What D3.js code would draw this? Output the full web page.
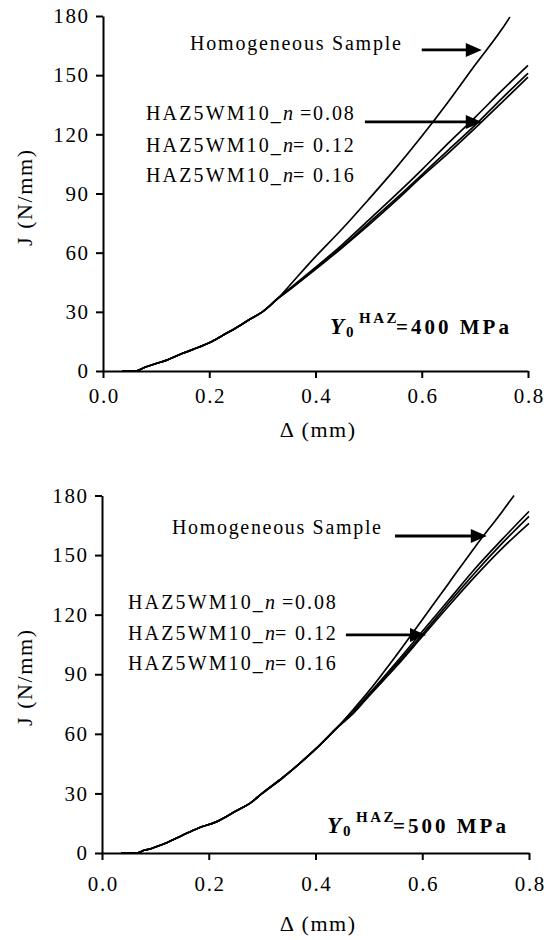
<!DOCTYPE html>
<html>
<head>
<meta charset="utf-8">
<script src="https://cdn.jsdelivr.net/npm/d3@7"></script>
<style>
  html, body { margin: 0; padding: 0; background: #fff; }
  svg { display: block; }
</style>
</head>
<body>
<svg id="chart" width="544" height="940"></svg>
<script>
// ---------- shared axis data ----------
const xTicks = [0, 0.2, 0.4, 0.6, 0.8];
const yTicks = [0, 30, 60, 90, 120, 150, 180];
const xTitle = "\u0394 (mm)";
const yTitle = "J (N/mm)";
const homogLabel = "Homogeneous Sample";
const hazLabels = [
  { pre: "HAZ5WM10_", n: "n", post: " =0.08" },
  { pre: "HAZ5WM10_", n: "n", post: "= 0.12" },
  { pre: "HAZ5WM10_", n: "n", post: "= 0.16" }
];

// ---------- top panel (Y0 HAZ = 400 MPa) ----------
const topDeltaCommon = [0.036, 0.062, 0.07, 0.08, 0.10, 0.12, 0.15, 0.18, 0.20, 0.225, 0.25, 0.275, 0.30, 0.33];
const topJCommon     = [0, 0, 0.8, 2, 3.8, 5.5, 9, 12, 14.3, 18, 21.8, 26, 30, 37];

const topHomogDelta = [0.35, 0.40, 0.45, 0.50, 0.55, 0.60, 0.65, 0.70, 0.75, 0.766];
const topHomogJ     = [43, 58, 72, 87, 102.5, 119, 136.5, 155, 173, 179.5];

const topHazDelta = [0.35, 0.40, 0.45, 0.50, 0.55, 0.60, 0.65, 0.70, 0.75, 0.80];
const topHaz008J  = [41.5, 52.5, 64, 76.5, 89, 102, 115.5, 128.5, 142, 155];
const topHaz012J  = [41, 52, 63, 75, 87, 99.5, 112, 124.5, 138, 151];
const topHaz016J  = [41, 51.5, 62.5, 74, 86, 98.5, 110.5, 123, 136, 149];

// ---------- bottom panel (Y0 HAZ = 500 MPa) ----------
const botDeltaCommon = [0.036, 0.065, 0.08, 0.09, 0.10, 0.12, 0.15, 0.18, 0.215, 0.25, 0.277, 0.30, 0.339, 0.37, 0.403, 0.44];
const botJCommon     = [0, 0, 1.5, 2, 3, 5, 8.8, 12.5, 15.8, 21, 25, 30, 38, 45, 53, 63];

const botHomogDelta = [0.47, 0.50, 0.55, 0.60, 0.65, 0.70, 0.75, 0.772];
const botHomogJ     = [72, 81.5, 99, 117.5, 136, 154.5, 172, 180];

const botHazDelta = [0.47, 0.50, 0.55, 0.60, 0.65, 0.70, 0.75, 0.80];
const botHaz008J  = [71, 80, 95.5, 111.5, 127.5, 143.5, 158, 172];
const botHaz012J  = [70.5, 79.5, 94.5, 110, 126, 141.5, 156, 169.5];
const botHaz016J  = [70, 79, 93.5, 109, 124.5, 139.5, 153.5, 166];

// arrows (data coordinates)
const topArrows = [ { x1: 0.600, x2: 0.713, y: 162.8 }, { x1: 0.493, x2: 0.713, y: 126.3 } ];
const botArrows = [ { x1: 0.549, x2: 0.721, y: 159.6 }, { x1: 0.457, x2: 0.607, y: 109.8 } ];

const topStress = "400";
const botStress = "500";

// ---------- font selection ----------
function pickFont(cands) {
  const c = document.createElement("canvas").getContext("2d");
  const s = "Homogeneous Sample HAZ5WM10 0123456789";
  c.font = "40px monospace"; const wm = c.measureText(s).width;
  c.font = "40px sans-serif"; const ws = c.measureText(s).width;
  for (const f of cands) {
    c.font = `40px "${f}", monospace`; const w1 = c.measureText(s).width;
    c.font = `40px "${f}", sans-serif`; const w2 = c.measureText(s).width;
    if (w1 !== wm || w2 !== ws) return `"${f}", serif`;
  }
  return "serif";
}
const FONT = pickFont(["Liberation Serif", "Times New Roman", "Tinos", "Times", "Noto Serif", "DejaVu Serif"]);

// emulate letter-spacing with textLength (ls px between glyphs)
function spread(node, ls, trailing) {
  const txt = node.textContent || "";
  const n = txt.length;
  if (!n) return;
  const w = node.getComputedTextLength();
  const extra = (trailing ? n : n - 1) * ls;
  node.setAttribute("textLength", (w + extra).toFixed(2));
  node.setAttribute("lengthAdjust", "spacing");
}

// ---------- helpers ----------
function series(dc, jc, d, j) {
  const pts = dc.map((x, i) => ({ x, y: jc[i] }));
  d.forEach((x, i) => pts.push({ x, y: j[i] }));
  return pts;
}

const svg = d3.select("#chart");

function panel(cfg) {
  const x = d3.scaleLinear().domain([0, 0.8]).range([cfg.x0, cfg.x1]);
  const y = d3.scaleLinear().domain([0, 180]).range([cfg.y0, cfg.y1]);
  const g = svg.append("g");

  // axes
  const ax = g.append("g").attr("transform", `translate(0,${cfg.y0})`)
    .call(d3.axisBottom(x).tickValues(xTicks).tickFormat(d3.format(".1f")).tickSize(7).tickSizeOuter(0));
  const ay = g.append("g").attr("transform", `translate(${cfg.x0},0)`)
    .call(d3.axisLeft(y).tickValues(yTicks).tickFormat(d3.format("d")).tickSize(7).tickSizeOuter(0).tickPadding(8));
  [ax, ay].forEach(a => {
    a.attr("font-family", null).attr("font-size", null);
    a.select(".domain").attr("stroke", "#000").attr("stroke-width", 2);
    a.selectAll(".tick line").attr("stroke", "#000").attr("stroke-width", 2);
    a.selectAll("text").attr("font-size", 21).attr("fill", "#000").attr("font-family", FONT)
      .each(function () { spread(this, 1.6, false); });
  });
  ax.selectAll("text").attr("y", cfg.xLabelDy).attr("dy", null);

  // axis titles
  g.append("text").attr("x", (cfg.x0 + cfg.x1) / 2 + 2).attr("y", cfg.xTitleY)
    .attr("text-anchor", "middle").attr("font-size", 22)
    .attr("font-family", FONT).text(xTitle).each(function () { spread(this, 1.6, false); });
  g.append("text").attr("transform", `translate(${cfg.yTitleX},${cfg.yTitleY}) rotate(-90)`)
    .attr("text-anchor", "middle").attr("dy", "0.35em").attr("font-family", FONT)
    .attr("font-size", 22).text(yTitle).each(function () { spread(this, 1.6, false); });

  // curves
  const line = d3.line().x(d => x(d.x)).y(d => y(d.y)).curve(d3.curveMonotoneX);
  cfg.curves.forEach(c => {
    g.append("path").datum(c).attr("d", line)
      .attr("fill", "none").attr("stroke", "#000").attr("stroke-width", 1.7)
      .attr("stroke-linejoin", "round");
  });

  // arrows
  cfg.arrows.forEach(a => {
    const xs = x(a.x1), xe = x(a.x2), yy = y(a.y);
    g.append("line").attr("x1", xs).attr("x2", xe - 12).attr("y1", yy).attr("y2", yy)
      .attr("stroke", "#000").attr("stroke-width", 2.8);
    g.append("path").attr("d", `M${xe},${yy} L${xe - 16},${yy - 7} L${xe - 16},${yy + 7} Z`).attr("fill", "#000");
  });

  // labels
  g.append("text").attr("x", cfg.homX).attr("y", cfg.homY).attr("font-size", 20)
    .attr("font-family", FONT).attr("textLength", cfg.homW).attr("lengthAdjust", "spacing")
    .text(homogLabel);
  hazLabels.forEach((l, i) => {
    const t = g.append("text").attr("x", cfg.hazX).attr("y", cfg.hazY[i]).attr("font-size", 20)
      .attr("font-family", FONT);
    const a = t.append("tspan").text(l.pre);
    const b = t.append("tspan").attr("font-style", "italic").text(l.n);
    const c = t.append("tspan").text(l.post);
    spread(a.node(), 1.9, true);
    spread(b.node(), 1.9, true);
    spread(c.node(), 1.9, false);
  });

  // Y0^HAZ = ... MPa
  const bx = cfg.sx, by = cfg.sy;
  const s = g.append("text").attr("y", by).attr("font-weight", "bold").attr("font-family", FONT);
  s.append("tspan").attr("x", bx).attr("y", by).attr("font-size", 23).attr("font-style", "italic").text("Y");
  s.append("tspan").attr("x", bx + 16).attr("y", by + 3).attr("font-size", 15).text("0");
  const h = s.append("tspan").attr("x", bx + 29).attr("y", by - 11).attr("font-size", 15).text("HAZ");
  const m = s.append("tspan").attr("x", bx + 66).attr("y", by).attr("font-size", 21).text("=" + cfg.stress + " MPa");
  spread(h.node(), 2.5, false);
  spread(m.node(), 3, false);
}

panel({
  x0: 103, x1: 528, y0: 371, y1: 16,
  xLabelDy: 32, xTitleY: 437, yTitleX: 24, yTitleY: 198,
  curves: [
    series(topDeltaCommon, topJCommon, topHomogDelta, topHomogJ),
    series(topDeltaCommon, topJCommon, topHazDelta, topHaz008J),
    series(topDeltaCommon, topJCommon, topHazDelta, topHaz012J),
    series(topDeltaCommon, topJCommon, topHazDelta, topHaz016J)
  ],
  arrows: topArrows,
  homX: 190, homY: 50, homW: 211, hazX: 146, hazY: [120, 152, 182],
  sx: 330, sy: 334, stress: topStress
});

panel({
  x0: 102, x1: 529, y0: 853, y1: 495.5,
  xLabelDy: 38, xTitleY: 931, yTitleX: 24, yTitleY: 678,
  curves: [
    series(botDeltaCommon, botJCommon, botHomogDelta, botHomogJ),
    series(botDeltaCommon, botJCommon, botHazDelta, botHaz008J),
    series(botDeltaCommon, botJCommon, botHazDelta, botHaz012J),
    series(botDeltaCommon, botJCommon, botHazDelta, botHaz016J)
  ],
  arrows: botArrows,
  homX: 172, homY: 534, homW: 209, hazX: 128, hazY: [609, 640, 670],
  sx: 327, sy: 833, stress: botStress
});
</script>
</body>
</html>
